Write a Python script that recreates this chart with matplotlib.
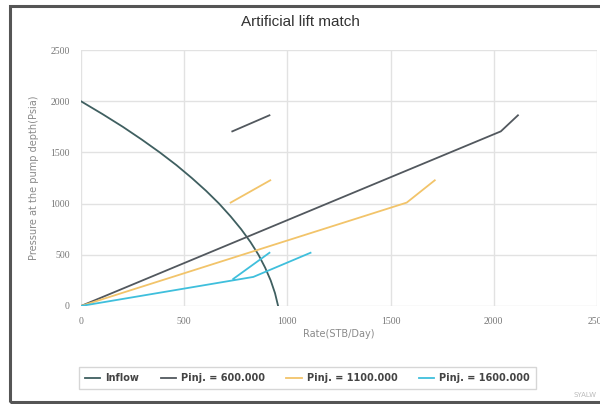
import numpy as np
import matplotlib
matplotlib.use("Agg")
import matplotlib.pyplot as plt
from matplotlib.patches import Rectangle

# Inflow performance (rate vs. pressure at pump depth)
inflow_rate = [0, 104, 203, 295, 382, 463, 537, 606, 669, 725, 776, 821,
               860, 892, 919, 940, 955]
inflow_pres = [2000, 1875, 1750, 1625, 1500, 1375, 1250, 1125, 1000, 875,
               750, 625, 500, 375, 250, 125, 0]

# Outflow curves per injection pressure (NaN separates the two pieces)
pinj_labels = ["Pinj. = 600.000", "Pinj. = 1100.000", "Pinj. = 1600.000"]
pinj600_rate = [0, 2034, 2117, np.nan, 733, 913]
pinj600_pres = [0, 1706, 1863, np.nan, 1706, 1863]
pinj1100_rate = [0, 1578, 1714, np.nan, 725, 917]
pinj1100_pres = [0, 1010, 1228, np.nan, 1010, 1228]
pinj1600_rate = [0, 835, 1112, np.nan, 738, 913]
pinj1600_pres = [0, 284, 520, np.nan, 265, 520]

x_ticks = [0, 500, 1000, 1500, 2000, 2500]
y_ticks = [0, 500, 1000, 1500, 2000, 2500]

fig = plt.figure(figsize=(6.0, 4.04), dpi=100)
ax = fig.add_axes([0.135, 0.2426, 0.86, 0.6334])

ax.plot(inflow_rate, inflow_pres, color="#3f5f60", lw=1.3, label="Inflow")
ax.plot(pinj600_rate, pinj600_pres, color="#52585e", lw=1.3, label=pinj_labels[0])
ax.plot(pinj1100_rate, pinj1100_pres, color="#f2c46a", lw=1.3, label=pinj_labels[1])
ax.plot(pinj1600_rate, pinj1600_pres, color="#3fbfdc", lw=1.3, label=pinj_labels[2])

ax.set_xlim(0, 2500)
ax.set_ylim(0, 2500)
ax.set_xticks(x_ticks)
ax.set_yticks(y_ticks)
ax.tick_params(length=0, labelsize=7, labelcolor="#777777", pad=8)
for lbl in ax.get_xticklabels() + ax.get_yticklabels():
    lbl.set_fontfamily("Liberation Serif")
ax.grid(True, color="#e2e2e2", lw=1.0)
ax.set_axisbelow(True)
for s in ax.spines.values():
    s.set_visible(False)

ax.set_xlabel("Rate(STB/Day)", fontsize=7, color="#8a8a8a", labelpad=2)
ax.set_ylabel("Pressure at the pump depth(Psia)", fontsize=7, color="#8a8a8a", labelpad=8)
fig.text(0.5, 0.945, "Artificial lift match", ha="center", va="center",
         fontsize=11, color="#333333", family="Liberation Sans")

leg = fig.legend(loc="center", bbox_to_anchor=(0.5125, 0.064), ncol=4,
                 fontsize=7, frameon=True, fancybox=False, handlelength=1.6,
                 columnspacing=2.2, handletextpad=0.5, borderpad=0.6)
leg.get_frame().set_edgecolor("#cccccc")
leg.get_frame().set_linewidth(1.0)
for t in leg.get_texts():
    t.set_color("#444444")
    t.set_fontweight("bold")

fig.text(0.975, 0.022, "SYALW", ha="center", va="center", fontsize=5, color="#bbbbbb")

# outer frame
fig.patches.append(Rectangle((0.016, 0.004), 1.0, 0.98, transform=fig.transFigure,
                             fill=False, edgecolor="#555555", lw=2.2))

fig.savefig("out.png", dpi=100)
